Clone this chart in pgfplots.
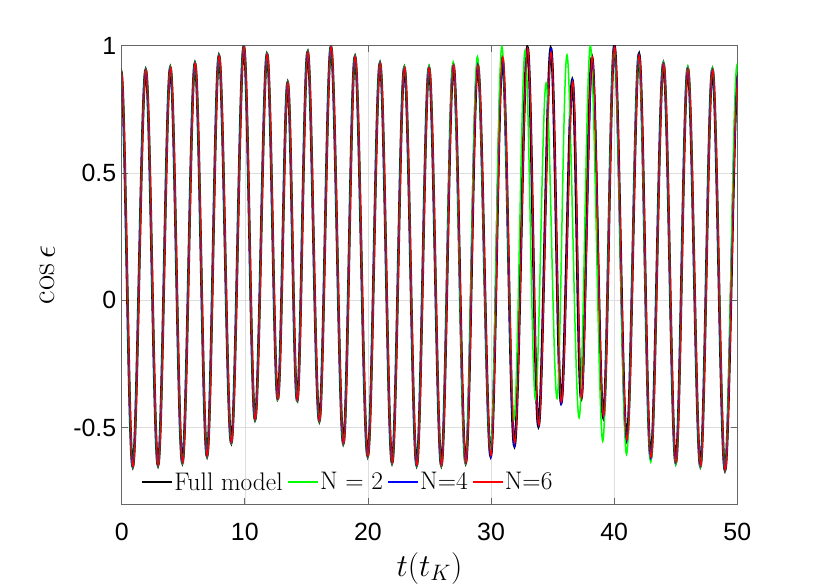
\RequirePackage{fix-cm}
\documentclass[border=0pt]{standalone}
\usepackage{fontspec}
\usepackage{pgfplots}
\usepackage{pgfplotstable}
\pgfplotsset{compat=1.18}
\newfontfamily\ticksf{Liberation Sans}

\pgfplotstableread{
x y
-1.0 -0.65
-0.05 0.900
0.90 -0.653
1.95 0.905
2.95 -0.648
3.95 0.914
4.93 -0.638
5.95 0.931
6.93 -0.612
7.90 0.961
8.90 -0.559
9.91 0.996
10.83 -0.468
11.80 0.967
12.67 -0.387
13.48 0.855
14.26 -0.393
15.11 0.976
16.05 -0.474
17.00 0.996
18.00 -0.562
18.95 0.957
19.98 -0.612
20.98 0.931
21.96 -0.638
22.96 0.914
23.96 -0.648
24.96 0.914
25.96 -0.648
26.94 0.924
27.94 -0.638
28.92 0.924
29.97 -0.612
30.92 0.950
31.90 -0.572
32.95 0.994
33.85 -0.494
34.85 0.990
35.69 -0.402
36.60 0.865
37.33 -0.385
38.20 0.955
39.12 -0.461
40.02 0.999
41.02 -0.550
42.02 0.967
42.97 -0.620
44.00 0.931
45.00 -0.638
45.98 0.911
47.00 -0.651
47.98 0.907
49.00 -0.667
50.05 0.885
51.00 -0.670
}\fullmodel

\pgfplotstableread{
x y
-1.0 -0.65
-0.05 0.902
0.90 -0.655
1.95 0.907
2.95 -0.650
3.95 0.916
4.93 -0.640
5.95 0.933
6.93 -0.614
7.90 0.963
8.90 -0.561
9.91 0.998
10.83 -0.470
11.80 0.969
12.67 -0.389
13.48 0.857
14.26 -0.395
15.11 0.978
16.05 -0.476
17.00 0.998
18.00 -0.564
18.95 0.959
19.98 -0.614
20.98 0.933
21.96 -0.640
22.96 0.918
23.96 -0.650
24.96 0.920
25.96 -0.650
26.92 0.935
27.92 -0.640
28.89 0.957
29.95 -0.600
30.87 0.996
31.85 -0.470
32.76 0.980
33.60 -0.389
34.47 0.853
35.36 -0.385
36.17 0.963
37.15 -0.461
38.07 0.999
39.07 -0.553
40.00 0.990
41.00 -0.605
42.00 0.960
42.97 -0.635
44.00 0.935
45.00 -0.645
45.98 0.918
47.00 -0.655
47.98 0.912
49.00 -0.668
49.98 0.925
51.00 -0.670
}\ntwo

\pgfplotstableread{
x y
-1.0 -0.65
-0.05 0.899
0.90 -0.653
1.95 0.905
2.95 -0.648
3.95 0.914
4.93 -0.638
5.95 0.931
6.93 -0.612
7.90 0.961
8.90 -0.559
9.91 0.996
10.83 -0.468
11.80 0.967
12.67 -0.387
13.48 0.855
14.26 -0.393
15.11 0.976
16.05 -0.474
17.00 0.996
18.00 -0.562
18.95 0.957
19.98 -0.612
20.98 0.931
21.96 -0.638
22.96 0.914
23.96 -0.648
24.96 0.914
25.96 -0.648
26.94 0.924
27.94 -0.638
28.92 0.928
29.97 -0.618
30.93 0.940
31.90 -0.575
32.95 0.990
33.86 -0.494
34.86 0.990
35.70 -0.410
36.62 0.868
37.36 -0.382
38.25 0.930
39.13 -0.458
40.02 0.996
41.02 -0.552
42.02 0.966
42.97 -0.622
44.00 0.931
45.00 -0.638
45.98 0.911
47.00 -0.651
47.98 0.907
49.00 -0.667
50.05 0.885
51.00 -0.670
}\nfour

\pgfplotstableread{
x y
-1.0 -0.65
-0.03 0.899
0.92 -0.653
1.97 0.905
2.97 -0.648
3.97 0.914
4.95 -0.638
5.97 0.931
6.95 -0.612
7.92 0.961
8.92 -0.559
9.93 0.996
10.85 -0.468
11.82 0.967
12.69 -0.387
13.50 0.855
14.28 -0.393
15.13 0.976
16.07 -0.474
17.02 0.996
18.02 -0.562
18.97 0.957
20.00 -0.612
21.00 0.931
21.98 -0.638
22.98 0.914
23.98 -0.648
24.98 0.914
25.98 -0.648
26.96 0.924
27.96 -0.638
28.94 0.924
29.99 -0.610
30.95 0.957
31.92 -0.560
32.97 0.990
33.87 -0.490
34.87 0.975
35.71 -0.400
36.63 0.860
37.36 -0.385
38.22 0.957
39.14 -0.455
40.04 0.995
41.04 -0.548
42.04 0.963
42.99 -0.617
44.02 0.928
45.02 -0.636
46.00 0.909
47.02 -0.650
48.00 0.905
49.02 -0.667
50.07 0.885
51.00 -0.670
}\nsix

\begin{document}
\begin{tikzpicture}
\useasboundingbox (0,0) rectangle (830bp,587bp);
\begin{axis}[
  at={(121.7bp,83bp)}, anchor=south west,
  scale only axis, width=615.6bp, height=458.3bp,
  xmin=0, xmax=50, ymin=-0.8, ymax=1,
  xtick={0,10,20,30,40,50}, xticklabels={0,10,20,30,40,50},
  ytick={-0.5,0,0.5,1}, yticklabels={-0.5,0,0.5,1},
  tick label style={font=\fontsize{25}{30}\selectfont\ticksf},
  xticklabel style={yshift=-16bp},
  yticklabel style={xshift=-2bp},
  tick align=inside, major tick length=6bp,
  grid=major, major grid style={black!13, line width=0.6bp},
  axis line style={black!60, line width=0.8bp},
  every tick/.style={black!60, line width=0.8bp},
  xlabel={$t(t_K)$}, ylabel={$\cos\epsilon$},
  xlabel style={font=\fontsize{32}{38}\selectfont, at={(axis description cs:0.5,-0.14)}, anchor=center},
  ylabel style={font=\fontsize{33}{39}\selectfont, at={(axis description cs:-0.12,0.5)}, anchor=center},
  legend columns=4,
  legend style={at={(axis description cs:0.025,0.048)}, anchor=west,
    draw=none, fill=none, font=\fontsize{25.5}{30}\selectfont,
    nodes={inner sep=1.5bp},
    /tikz/every even column/.append style={column sep=3bp}},
  legend image code/.code={\draw[#1, line cap=butt] (0bp,0bp) -- (30bp,0bp);},
  every axis plot/.append style={smooth, tension=0.6},
]
\addplot[black, line width=2.6bp] table {\fullmodel};
\addlegendentry{Full model}
\addplot[green, line width=1.5bp] table {\ntwo};
\addlegendentry{N = 2}
\addplot[blue, line width=1.2bp] table {\nfour};
\addlegendentry{N=4}
\addplot[red, line width=1.1bp] table {\nsix};
\addlegendentry{N=6}
\end{axis}
\end{tikzpicture}
\end{document}
